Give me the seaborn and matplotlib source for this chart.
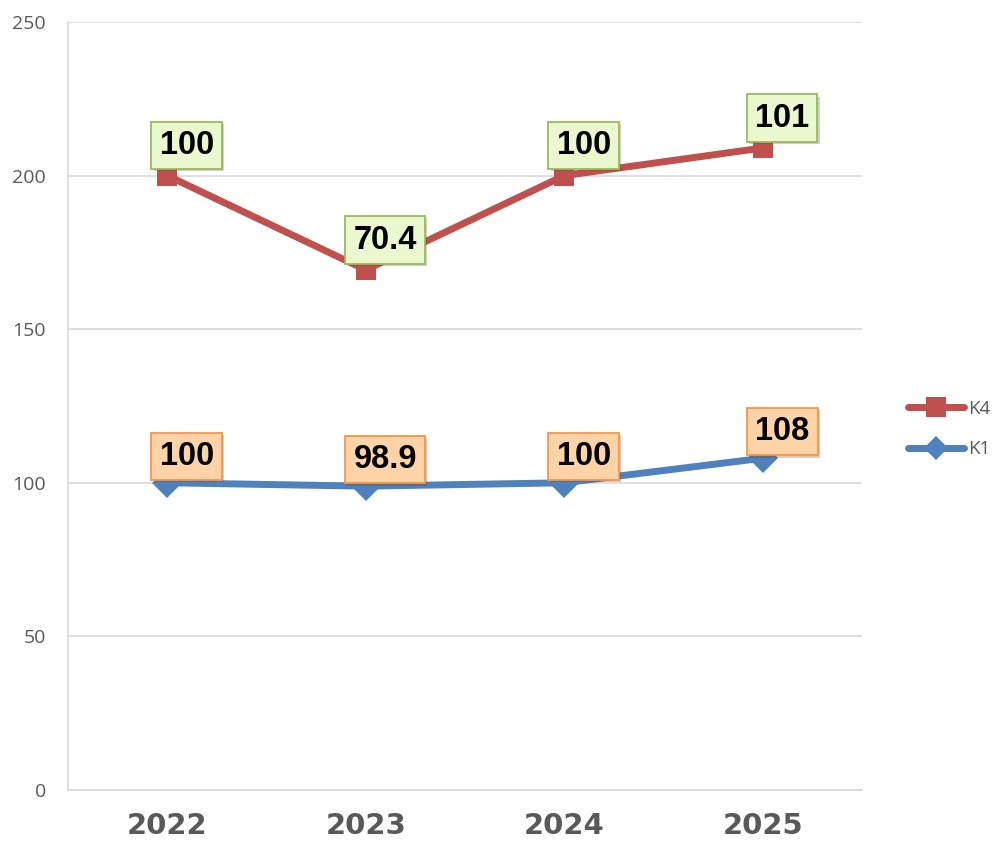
import pandas as pd
import matplotlib
matplotlib.use("Agg")
import matplotlib.pyplot as plt
import matplotlib.patheffects as pe
from matplotlib.lines import Line2D
import seaborn as sns

# --------------------------
# Data
# --------------------------
years = ["2022", "2023", "2024", "2025"]
k1 = [100, 98.9, 100, 108]
k4 = [100, 70.4, 100, 101]
y_ticks = [0, 50, 100, 150, 200, 250]

# stacked line chart: K4 sits on top of K1
k4_top = [a + b for a, b in zip(k1, k4)]

df = pd.DataFrame({
    "year": years * 2,
    "value": k1 + k4_top,
    "series": ["K1"] * len(years) + ["K4"] * len(years),
})

RED = "#C0504D"
BLUE = "#4F81BD"
GRAY = "#595959"

sns.set_theme(style="white")
plt.rcParams["font.family"] = ["Liberation Sans", "DejaVu Sans"]

fig = plt.figure(figsize=(9.92, 8.43), dpi=100)
ax = fig.add_axes([0.0686, 0.0629, 0.8004, 0.911])

sns.lineplot(data=df, x="year", y="value", hue="series",
             palette={"K1": BLUE, "K4": RED},
             style="series", markers={"K1": "D", "K4": "s"}, dashes=False,
             linewidth=5, markersize=15, markeredgewidth=0,
             sort=False, legend=False, ax=ax)

ax.set_xlim(-0.5, len(years) - 0.5)
ax.set_ylim(0, 250)
ax.set_yticks(y_ticks)
ax.set_xlabel("")
ax.set_ylabel("")
ax.grid(axis="y", color="#D9D9D9", linewidth=1.2)
ax.set_axisbelow(True)
for side in ["top", "right"]:
    ax.spines[side].set_visible(False)
for side in ["left", "bottom"]:
    ax.spines[side].set_color("#D9D9D9")
    ax.spines[side].set_linewidth(1.2)
ax.tick_params(axis="both", length=0)
ax.tick_params(axis="y", pad=16)
for lab in ax.get_yticklabels():
    lab.set_fontsize(14)
    lab.set_color(GRAY)
    lab.set_family(["Open Sans", "DejaVu Sans"])
ax.set_xticks(range(len(years)))
ax.set_xticklabels(years, fontsize=21, fontweight="bold", color=GRAY,
                   family="DejaVu Sans")
ax.tick_params(axis="x", pad=16)

# --------------------------
# Data labels
# --------------------------
def add_label(x, y, text, face, edge, dy):
    t = ax.annotate(text, (x, y), xytext=(14, dy), textcoords="offset points",
                    ha="center", va="center", fontsize=23.5, fontweight="bold",
                    color="black", zorder=5,
                    bbox=dict(boxstyle="square,pad=0.25", fc=face, ec=edge, lw=1.3))
    t.get_bbox_patch().set_path_effects(
        [pe.SimplePatchShadow(offset=(1.5, -1.5), alpha=0.25), pe.Normal()])

for i, yr in enumerate(years):
    add_label(i, k4_top[i], f"{k4[i]:g}", "#EAF7CF", "#9BBB59", 21.5)
    add_label(i, k1[i], f"{k1[i]:g}", "#FFD3A8", "#F79646", 19)

# --------------------------
# Legend
# --------------------------
handles = [
    Line2D([], [], color=RED, lw=5, marker="s", markersize=14, markeredgewidth=0),
    Line2D([], [], color=BLUE, lw=5, marker="D", markersize=12, markeredgewidth=0),
]
leg = fig.legend(handles, ["K4", "K1"], loc="center left",
                 bbox_to_anchor=(0.908, 0.491), frameon=False,
                 handlelength=3.0, handletextpad=0.2,
                 labelspacing=1.2, borderaxespad=0,
                 prop={"family": ["Open Sans", "DejaVu Sans"], "size": 13.5})
for txt in leg.get_texts():
    txt.set_color(GRAY)

fig.savefig("out.png", dpi=100)
